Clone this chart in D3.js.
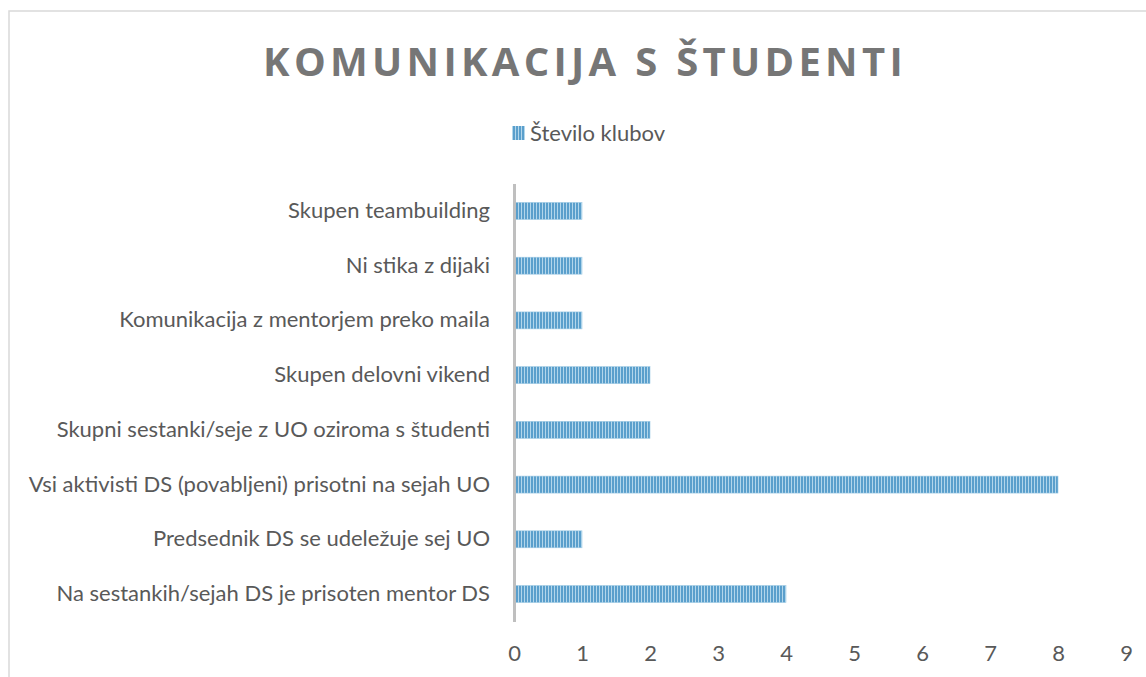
<!DOCTYPE html>
<html lang="sl">
	<head>
		<meta charset="utf-8">
		<title>Komunikacija s študenti</title>
		<script type="text/javascript" src="https://d3js.org/d3.v7.min.js"></script>
		<style type="text/css">
			body {
				margin: 0;
				background: #ffffff;
			}
			.axis text {
				font-family: Lato, "Open Sans", sans-serif;
				font-size: 22px;
				fill: #595959;
			}
			.title {
				font-family: "Open Sans", sans-serif;
				font-weight: bold;
				font-size: 40px;
				letter-spacing: 4.3px;
				fill: #767676;
			}
			.legend text {
				font-family: Lato, "Open Sans", sans-serif;
				font-size: 22px;
				fill: #595959;
			}
		</style>
	</head>
	<body>
		<div id="chart"></div>

		<script type="text/javascript">

	//categories as listed in the spreadsheet (first one is drawn at the bottom)
	var categories = [
		"Na sestankih/sejah DS je prisoten mentor DS",
		"Predsednik DS se udeležuje sej UO",
		"Vsi aktivisti DS (povabljeni) prisotni na sejah UO",
		"Skupni sestanki/seje z UO oziroma s študenti",
		"Skupen delovni vikend",
		"Komunikacija z mentorjem preko maila",
		"Ni stika z dijaki",
		"Skupen teambuilding"
	]
	var values = [4, 1, 8, 2, 2, 1, 1, 1]
	var xTicks = [0, 1, 2, 3, 4, 5, 6, 7, 8, 9]
	var seriesName = "Število klubov"
	var chartTitle = "KOMUNIKACIJA S ŠTUDENTI"

	var data = categories.map(function(c, i) {
		return {name: c, value: values[i]}
	})

	var w = 1146
	var h = 677

	var svg = d3.select("#chart")
		.append("svg")
		.attr("width", w)
		.attr("height", h)

	//striped fill like the excel pattern
	var defs = svg.append("defs")
	var pat = defs.append("pattern")
		.attr("id", "stripes")
		.attr("patternUnits", "userSpaceOnUse")
		.attr("width", 3)
		.attr("height", 10)
	pat.append("rect")
		.attr("width", 3).attr("height", 10)
		.attr("fill", "#b2d6eb")
	pat.append("rect")
		.attr("width", 2).attr("height", 10)
		.attr("fill", "#5a9fcc")

	//chart frame
	svg.append("rect")
		.attr("x", 9)
		.attr("y", 11)
		.attr("width", w + 10)
		.attr("height", h + 10)
		.attr("fill", "none")
		.attr("stroke", "#d9d9d9")
		.attr("stroke-width", 1.5)

	//title
	svg.append("text")
		.attr("class", "title")
		.attr("x", 585)
		.attr("y", 76)
		.attr("text-anchor", "middle")
		.text(chartTitle)

	//legend
	var legend = svg.append("g").attr("class", "legend")
	legend.append("rect")
		.attr("x", 512)
		.attr("y", 126)
		.attr("width", 13)
		.attr("height", 14)
		.attr("fill", "url(#stripes)")
	legend.append("text")
		.attr("x", 530)
		.attr("y", 141)
		.text(seriesName)

	var xScale = d3.scaleLinear()
		.domain([0, 9])
		.range([514, 1126])

	var yScale = d3.scaleBand()
		.domain(categories.slice().reverse())
		.range([183.6, 621.4])
		.paddingInner(0.69)
		.paddingOuter(0.345)

	//bars
	svg.selectAll("rect.bar")
		.data(data)
		.enter()
		.append("rect")
		.attr("class", "bar")
		.attr("x", xScale(0))
		.attr("y", function(d) { return yScale(d.name) })
		.attr("width", function(d) { return xScale(d.value) - xScale(0) })
		.attr("height", yScale.bandwidth())
		.attr("fill", "url(#stripes)")
		.attr("stroke", "#9cc8e3")
		.attr("stroke-width", 0.6)

	//category axis
	var yAxis = d3.axisLeft(yScale)
		.tickSize(0)
		.tickPadding(24)
	var gy = svg.append("g")
		.attr("class", "axis")
		.attr("transform", "translate(" + xScale(0) + ",0)")
		.call(yAxis)
	gy.select(".domain")
		.attr("stroke", "#bfbfbf")
		.attr("stroke-width", 3)

	//value axis
	var xAxis = d3.axisBottom(xScale)
		.tickValues(xTicks)
		.tickSize(0)
		.tickPadding(0)
		.tickFormat(d3.format("d"))
	var gx = svg.append("g")
		.attr("class", "axis")
		.attr("transform", "translate(0,645)")
		.call(xAxis)
	gx.select(".domain").remove()

		</script>
	</body>
</html>
